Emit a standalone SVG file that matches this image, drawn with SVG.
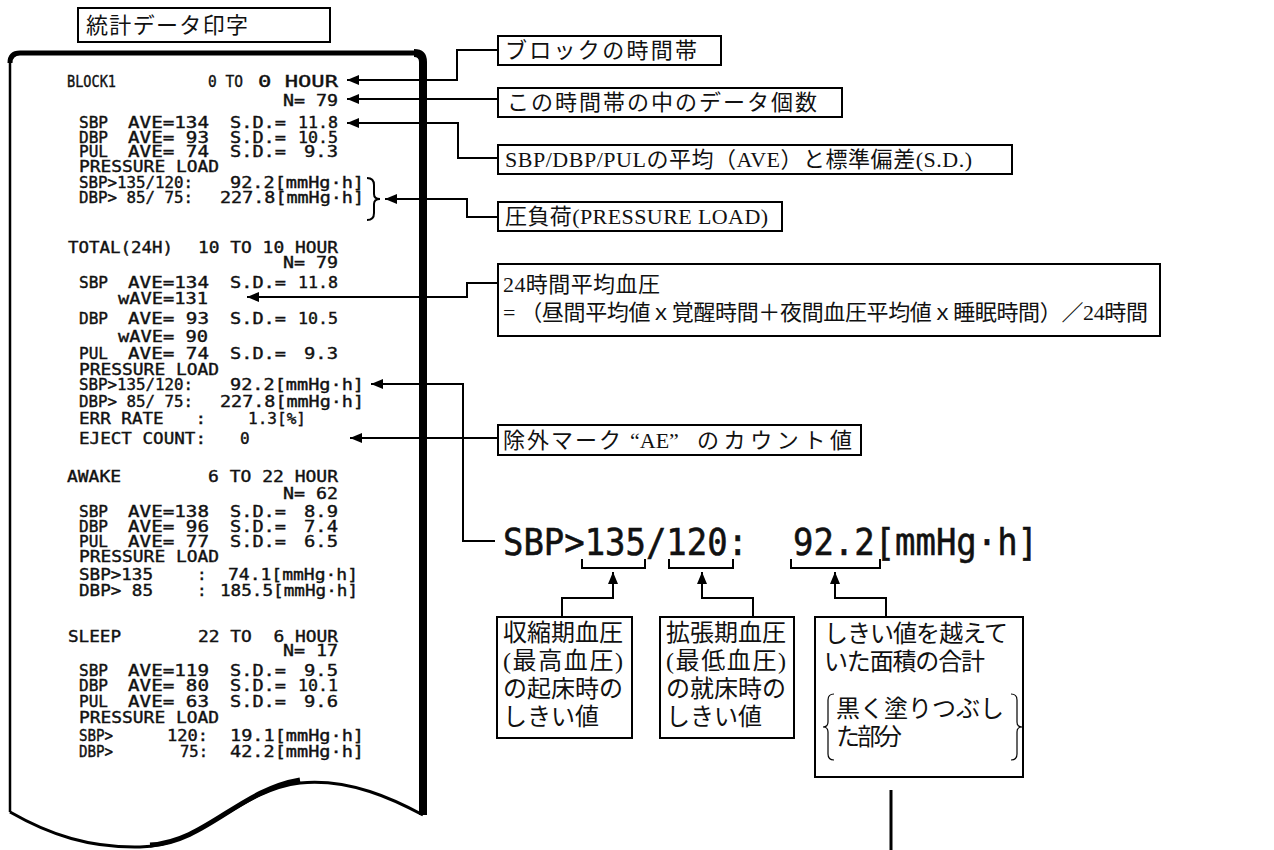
<svg xmlns="http://www.w3.org/2000/svg" width="1274" height="850" viewBox="0 0 1274 850" xml:space="preserve">
<style>
.pr{font-family:"DejaVu Sans Mono","Liberation Mono",monospace;font-size:16px;fill:#111;stroke:#111;stroke-width:0.4;white-space:pre}
.big{font-family:"DejaVu Sans Mono","Liberation Mono",monospace;font-size:38px;fill:#111;stroke:#111;stroke-width:0.6;white-space:pre}
.lb{font-family:"Liberation Serif","Noto Sans CJK JP",serif;font-size:22px;fill:#111;white-space:pre}
.lb2{font-family:"Liberation Serif","Noto Sans CJK JP",serif;font-size:24px;fill:#111;white-space:pre}
.box{fill:#fff;stroke:#000;stroke-width:2}
.cn{fill:none;stroke:#000;stroke-width:2}
</style>
<defs>
<marker id="ah" viewBox="0 0 12 10" refX="12" refY="5" markerWidth="12" markerHeight="10" markerUnits="userSpaceOnUse" orient="auto-start-reverse">
<path d="M0,0 L12,5 L0,10 z" fill="#000"/>
</marker>
</defs>
<rect width="1274" height="850" fill="#fff"/>

<g id="title">
<rect class="box" x="78" y="8" width="252" height="34"/>
<text class="lb" x="86" y="33" textLength="162" lengthAdjust="spacing">統計データ印字</text>
</g>

<g id="paper">
<path d="M10,60 V812" fill="none" stroke="#000" stroke-width="2.5"/>
<path d="M10,63 Q10,53 20,53 H418" fill="none" stroke="#000" stroke-width="5"/>
<path d="M414,53 Q423,53 423,62 V815" fill="none" stroke="#000" stroke-width="8"/>
<path d="M10,812 C50,835 90,848 140,847 C200,846 240,790 300,783 C350,778 395,800 423,815" fill="none" stroke="#000" stroke-width="3"/>
<path d="M150,845 C205,842 240,790 300,780" fill="none" stroke="#000" stroke-width="5"/>
</g>

<g id="printout">
<text class="pr" y="87"><tspan x="67" textLength="49" lengthAdjust="spacingAndGlyphs">BLOCK1</tspan><tspan x="208" textLength="35" lengthAdjust="spacingAndGlyphs">0 TO</tspan><tspan x="258" textLength="80" lengthAdjust="spacingAndGlyphs">0 HOUR</tspan></text>
<text class="pr" y="106"><tspan x="283" textLength="55" lengthAdjust="spacingAndGlyphs">N= 79</tspan></text>
<text class="pr" y="128"><tspan x="79" textLength="29" lengthAdjust="spacingAndGlyphs">SBP</tspan><tspan x="128" textLength="81" lengthAdjust="spacingAndGlyphs">AVE=134</tspan><tspan x="230" textLength="56" lengthAdjust="spacingAndGlyphs">S.D.=</tspan><tspan x="298" textLength="40" lengthAdjust="spacingAndGlyphs">11.8</tspan></text>
<text class="pr" y="143"><tspan x="79" textLength="29" lengthAdjust="spacingAndGlyphs">DBP</tspan><tspan x="128" textLength="81" lengthAdjust="spacingAndGlyphs">AVE= 93</tspan><tspan x="230" textLength="56" lengthAdjust="spacingAndGlyphs">S.D.=</tspan><tspan x="298" textLength="40" lengthAdjust="spacingAndGlyphs">10.5</tspan></text>
<text class="pr" y="157"><tspan x="79" textLength="29" lengthAdjust="spacingAndGlyphs">PUL</tspan><tspan x="128" textLength="81" lengthAdjust="spacingAndGlyphs">AVE= 74</tspan><tspan x="230" textLength="56" lengthAdjust="spacingAndGlyphs">S.D.=</tspan><tspan x="304" textLength="34" lengthAdjust="spacingAndGlyphs">9.3</tspan></text>
<text class="pr" y="172"><tspan x="79" textLength="140" lengthAdjust="spacingAndGlyphs">PRESSURE LOAD</tspan></text>
<text class="pr" y="188"><tspan x="79" textLength="114" lengthAdjust="spacingAndGlyphs">SBP&gt;135/120:</tspan><tspan x="230" textLength="134" lengthAdjust="spacingAndGlyphs">92.2[mmHg·h]</tspan></text>
<text class="pr" y="203"><tspan x="79" textLength="114" lengthAdjust="spacingAndGlyphs">DBP&gt; 85/ 75:</tspan><tspan x="220" textLength="144" lengthAdjust="spacingAndGlyphs">227.8[mmHg·h]</tspan></text>
<path d="M367,178 Q374,178 374,185 L374,194 Q374,199 380,199 Q374,199 374,204 L374,213 Q374,220 367,220" fill="none" stroke="#000" stroke-width="2"/>

<text class="pr" y="253"><tspan x="68" textLength="105" lengthAdjust="spacingAndGlyphs">TOTAL(24H)</tspan><tspan x="198" textLength="140" lengthAdjust="spacingAndGlyphs">10 TO 10 HOUR</tspan></text>
<text class="pr" y="268"><tspan x="283" textLength="55" lengthAdjust="spacingAndGlyphs">N= 79</tspan></text>
<text class="pr" y="288"><tspan x="79" textLength="29" lengthAdjust="spacingAndGlyphs">SBP</tspan><tspan x="128" textLength="81" lengthAdjust="spacingAndGlyphs">AVE=134</tspan><tspan x="230" textLength="56" lengthAdjust="spacingAndGlyphs">S.D.=</tspan><tspan x="298" textLength="40" lengthAdjust="spacingAndGlyphs">11.8</tspan></text>
<text class="pr" y="304"><tspan x="118" textLength="90" lengthAdjust="spacingAndGlyphs">wAVE=131</tspan></text>
<text class="pr" y="324"><tspan x="79" textLength="29" lengthAdjust="spacingAndGlyphs">DBP</tspan><tspan x="128" textLength="81" lengthAdjust="spacingAndGlyphs">AVE= 93</tspan><tspan x="230" textLength="56" lengthAdjust="spacingAndGlyphs">S.D.=</tspan><tspan x="298" textLength="40" lengthAdjust="spacingAndGlyphs">10.5</tspan></text>
<text class="pr" y="342"><tspan x="118" textLength="90" lengthAdjust="spacingAndGlyphs">wAVE= 90</tspan></text>
<text class="pr" y="359"><tspan x="79" textLength="29" lengthAdjust="spacingAndGlyphs">PUL</tspan><tspan x="128" textLength="81" lengthAdjust="spacingAndGlyphs">AVE= 74</tspan><tspan x="230" textLength="56" lengthAdjust="spacingAndGlyphs">S.D.=</tspan><tspan x="304" textLength="34" lengthAdjust="spacingAndGlyphs">9.3</tspan></text>
<text class="pr" y="375"><tspan x="79" textLength="140" lengthAdjust="spacingAndGlyphs">PRESSURE LOAD</tspan></text>
<text class="pr" y="390"><tspan x="79" textLength="114" lengthAdjust="spacingAndGlyphs">SBP&gt;135/120:</tspan><tspan x="230" textLength="134" lengthAdjust="spacingAndGlyphs">92.2[mmHg·h]</tspan></text>
<text class="pr" y="407"><tspan x="79" textLength="114" lengthAdjust="spacingAndGlyphs">DBP&gt; 85/ 75:</tspan><tspan x="220" textLength="144" lengthAdjust="spacingAndGlyphs">227.8[mmHg·h]</tspan></text>
<text class="pr" y="424"><tspan x="79" textLength="127" lengthAdjust="spacingAndGlyphs">ERR RATE   :</tspan><tspan x="248" textLength="58" lengthAdjust="spacingAndGlyphs">1.3[%]</tspan></text>
<text class="pr" y="444"><tspan x="79" textLength="127" lengthAdjust="spacingAndGlyphs">EJECT COUNT:</tspan><tspan x="240">0</tspan></text>

<text class="pr" y="482"><tspan x="67" textLength="54" lengthAdjust="spacingAndGlyphs">AWAKE</tspan><tspan x="208" textLength="130" lengthAdjust="spacingAndGlyphs">6 TO 22 HOUR</tspan></text>
<text class="pr" y="499"><tspan x="283" textLength="55" lengthAdjust="spacingAndGlyphs">N= 62</tspan></text>
<text class="pr" y="517"><tspan x="79" textLength="29" lengthAdjust="spacingAndGlyphs">SBP</tspan><tspan x="128" textLength="81" lengthAdjust="spacingAndGlyphs">AVE=138</tspan><tspan x="230" textLength="56" lengthAdjust="spacingAndGlyphs">S.D.=</tspan><tspan x="304" textLength="34" lengthAdjust="spacingAndGlyphs">8.9</tspan></text>
<text class="pr" y="532"><tspan x="79" textLength="29" lengthAdjust="spacingAndGlyphs">DBP</tspan><tspan x="128" textLength="81" lengthAdjust="spacingAndGlyphs">AVE= 96</tspan><tspan x="230" textLength="56" lengthAdjust="spacingAndGlyphs">S.D.=</tspan><tspan x="304" textLength="34" lengthAdjust="spacingAndGlyphs">7.4</tspan></text>
<text class="pr" y="547"><tspan x="79" textLength="29" lengthAdjust="spacingAndGlyphs">PUL</tspan><tspan x="128" textLength="81" lengthAdjust="spacingAndGlyphs">AVE= 77</tspan><tspan x="230" textLength="56" lengthAdjust="spacingAndGlyphs">S.D.=</tspan><tspan x="304" textLength="34" lengthAdjust="spacingAndGlyphs">6.5</tspan></text>
<text class="pr" y="562"><tspan x="79" textLength="140" lengthAdjust="spacingAndGlyphs">PRESSURE LOAD</tspan></text>
<text class="pr" y="580"><tspan x="79" textLength="74" lengthAdjust="spacingAndGlyphs">SBP&gt;135</tspan><tspan x="197">:</tspan><tspan x="228" textLength="130" lengthAdjust="spacingAndGlyphs">74.1[mmHg·h]</tspan></text>
<text class="pr" y="596"><tspan x="79" textLength="74" lengthAdjust="spacingAndGlyphs">DBP&gt; 85</tspan><tspan x="197">:</tspan><tspan x="220" textLength="138" lengthAdjust="spacingAndGlyphs">185.5[mmHg·h]</tspan></text>

<text class="pr" y="642"><tspan x="68" textLength="53" lengthAdjust="spacingAndGlyphs">SLEEP</tspan><tspan x="198" textLength="140" lengthAdjust="spacingAndGlyphs">22 TO  6 HOUR</tspan></text>
<text class="pr" y="656"><tspan x="283" textLength="55" lengthAdjust="spacingAndGlyphs">N= 17</tspan></text>
<text class="pr" y="676"><tspan x="79" textLength="29" lengthAdjust="spacingAndGlyphs">SBP</tspan><tspan x="128" textLength="81" lengthAdjust="spacingAndGlyphs">AVE=119</tspan><tspan x="230" textLength="56" lengthAdjust="spacingAndGlyphs">S.D.=</tspan><tspan x="304" textLength="34" lengthAdjust="spacingAndGlyphs">9.5</tspan></text>
<text class="pr" y="691"><tspan x="79" textLength="29" lengthAdjust="spacingAndGlyphs">DBP</tspan><tspan x="128" textLength="81" lengthAdjust="spacingAndGlyphs">AVE= 80</tspan><tspan x="230" textLength="56" lengthAdjust="spacingAndGlyphs">S.D.=</tspan><tspan x="298" textLength="40" lengthAdjust="spacingAndGlyphs">10.1</tspan></text>
<text class="pr" y="707"><tspan x="79" textLength="29" lengthAdjust="spacingAndGlyphs">PUL</tspan><tspan x="128" textLength="81" lengthAdjust="spacingAndGlyphs">AVE= 63</tspan><tspan x="230" textLength="56" lengthAdjust="spacingAndGlyphs">S.D.=</tspan><tspan x="304" textLength="34" lengthAdjust="spacingAndGlyphs">9.6</tspan></text>
<text class="pr" y="723"><tspan x="79" textLength="140" lengthAdjust="spacingAndGlyphs">PRESSURE LOAD</tspan></text>
<text class="pr" y="741"><tspan x="79" textLength="34" lengthAdjust="spacingAndGlyphs">SBP&gt;</tspan><tspan x="167" textLength="41" lengthAdjust="spacingAndGlyphs">120:</tspan><tspan x="230" textLength="134" lengthAdjust="spacingAndGlyphs">19.1[mmHg·h]</tspan></text>
<text class="pr" y="757"><tspan x="79" textLength="34" lengthAdjust="spacingAndGlyphs">DBP&gt;</tspan><tspan x="180" textLength="28" lengthAdjust="spacingAndGlyphs">75:</tspan><tspan x="230" textLength="134" lengthAdjust="spacingAndGlyphs">42.2[mmHg·h]</tspan></text>
</g>

<g id="connectors">
<path class="cn" marker-start="url(#ah)" d="M347,80 H457 V50 H498"/>
<path class="cn" marker-start="url(#ah)" d="M347,99 H498"/>
<path class="cn" marker-start="url(#ah)" d="M347,123 H458 V158 H498"/>
<path class="cn" marker-start="url(#ah)" d="M385,199 H467 V217 H498"/>
<path class="cn" marker-start="url(#ah)" d="M247,297 H467 V283 H498"/>
<path class="cn" marker-start="url(#ah)" d="M371,384 H463 V541 H495"/>
<path class="cn" marker-start="url(#ah)" d="M350,438 H498"/>
<path class="cn" marker-start="url(#ah)" d="M613,572 V598 H562 V617"/>
<path class="cn" marker-start="url(#ah)" d="M702,572 V598 H753 V617"/>
<path class="cn" marker-start="url(#ah)" d="M835,572 V598 H886 V617"/>
<path class="cn" d="M582,559 V568 H645 V559"/>
<path class="cn" d="M669,559 V568 H733 V559"/>
<path class="cn" d="M791,559 V568 H880 V559"/>
<path d="M891,790 V850" fill="none" stroke="#000" stroke-width="3"/>
</g>

<g id="n-block">
<rect class="box" x="498" y="36" width="223" height="29"/>
<text class="lb" x="505" y="58" textLength="192" lengthAdjust="spacing">ブロックの時間帯</text>
</g>
<g id="n-count">
<rect class="box" x="498" y="88" width="344" height="29"/>
<text class="lb" x="507" y="110" textLength="310" lengthAdjust="spacing">この時間帯の中のデータ個数</text>
</g>
<g id="n-ave">
<rect class="box" x="498" y="145" width="514" height="29"/>
<text class="lb" x="505" y="167" textLength="467" lengthAdjust="spacing">SBP/DBP/PULの平均（AVE）と標準偏差(S.D.)</text>
</g>
<g id="n-load">
<rect class="box" x="498" y="202" width="284" height="29"/>
<text class="lb" x="505" y="224" textLength="263" lengthAdjust="spacing">圧負荷(PRESSURE LOAD)</text>
</g>
<g id="n-wave">
<rect class="box" x="498" y="264" width="662" height="72"/>
<text class="lb" x="503" y="292" textLength="157" lengthAdjust="spacing">24時間平均血圧</text>
<text class="lb" x="503" y="320" textLength="645" lengthAdjust="spacing">= （昼間平均値ｘ覚醒時間＋夜間血圧平均値ｘ睡眠時間）／24時間</text>
</g>
<g id="n-eject">
<rect class="box" x="498" y="425" width="363" height="30"/>
<text class="lb" y="448"><tspan x="503" textLength="118" lengthAdjust="spacing">除外マーク</tspan><tspan x="630">“AE”</tspan><tspan x="697" textLength="155" lengthAdjust="spacing">のカウント値</tspan></text>
</g>

<g id="n-big">
<text class="big" y="555"><tspan x="503" textLength="245" lengthAdjust="spacingAndGlyphs">SBP&gt;135/120:</tspan><tspan x="793" textLength="245" lengthAdjust="spacingAndGlyphs">92.2[mmHg·h]</tspan></text>
</g>

<g id="n-sys">
<rect class="box" x="497" y="617" width="135" height="121"/>
<text class="lb2" x="503" y="641" textLength="120" lengthAdjust="spacing">収縮期血圧</text>
<text class="lb2" x="503" y="669" textLength="120" lengthAdjust="spacing">(最高血圧)</text>
<text class="lb2" x="503" y="697" textLength="120" lengthAdjust="spacing">の起床時の</text>
<text class="lb2" x="503" y="725" textLength="96" lengthAdjust="spacing">しきい値</text>
</g>
<g id="n-dia">
<rect class="box" x="660" y="617" width="134" height="121"/>
<text class="lb2" x="666" y="641" textLength="120" lengthAdjust="spacing">拡張期血圧</text>
<text class="lb2" x="666" y="669" textLength="120" lengthAdjust="spacing">(最低血圧)</text>
<text class="lb2" x="666" y="697" textLength="120" lengthAdjust="spacing">の就床時の</text>
<text class="lb2" x="666" y="725" textLength="96" lengthAdjust="spacing">しきい値</text>
</g>
<g id="n-area">
<rect class="box" x="815" y="617" width="208" height="160"/>
<text class="lb2" x="824" y="642" textLength="184" lengthAdjust="spacing">しきい値を越えて</text>
<text class="lb2" x="824" y="670" textLength="161" lengthAdjust="spacing">いた面積の合計</text>
<text class="lb2" x="836" y="717" textLength="168" lengthAdjust="spacing">黒く塗りつぶし</text>
<text class="lb2" x="836" y="745" textLength="66" lengthAdjust="spacing">た部分</text>
<path d="M834,694 Q828,694 828,700 V722 Q828,727 823,727 Q828,727 828,732 V754 Q828,760 834,760" fill="none" stroke="#000" stroke-width="1.2"/>
<path d="M1011,694 Q1017,694 1017,700 V722 Q1017,727 1022,727 Q1017,727 1017,732 V754 Q1017,760 1011,760" fill="none" stroke="#000" stroke-width="1.2"/>
</g>
</svg>
